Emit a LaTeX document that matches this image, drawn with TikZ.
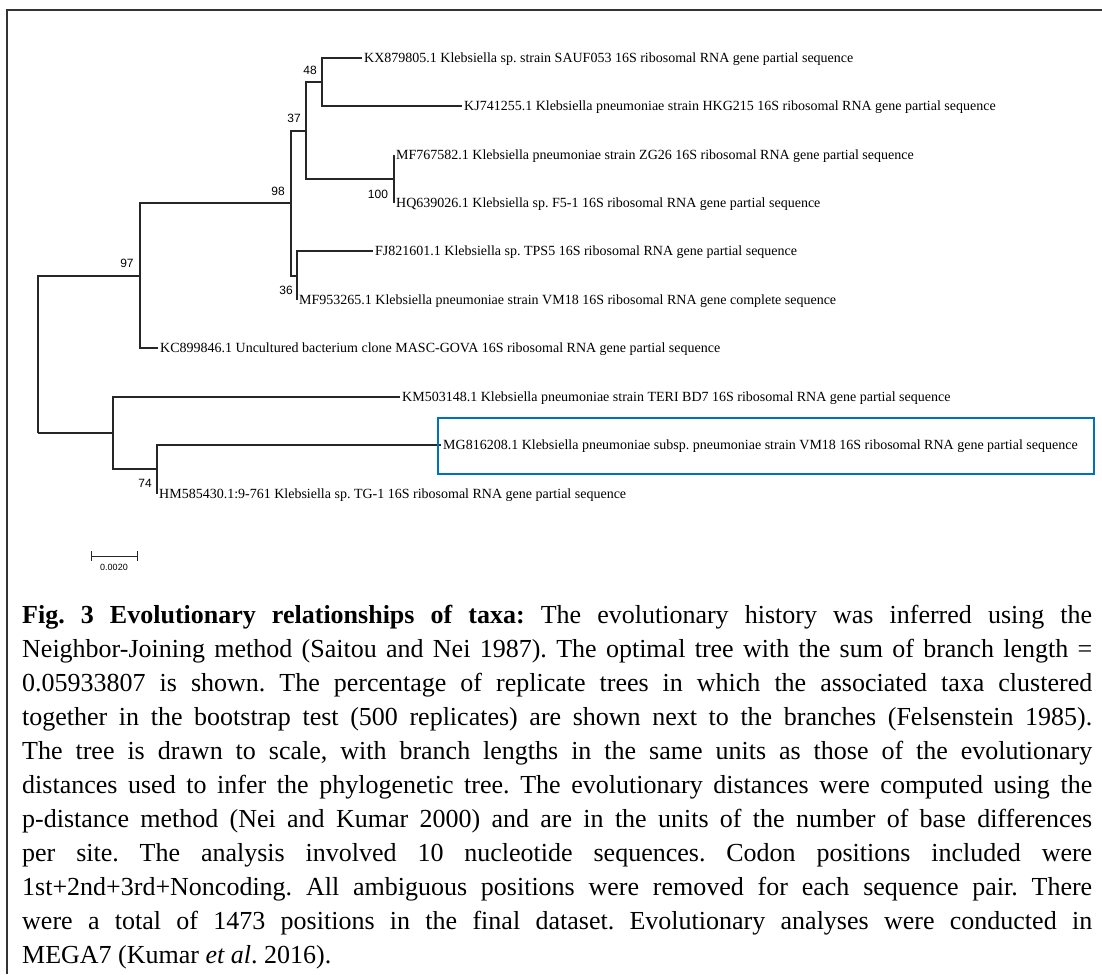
\documentclass[tikz,border=0pt]{standalone}
\usepackage{fontspec}
\setmainfont{Liberation Serif}
\newfontfamily\labelfont{Liberation Serif}
\newfontfamily\bootfont{Liberation Sans}
\definecolor{hlblue}{RGB}{0,112,192}
\newcommand\jline[1]{\hbox to 1070pt{#1}}
\frenchspacing
\begin{document}
\begin{tikzpicture}[x=1pt,y=-1pt,
  branch/.style={draw=black!85,line width=1.1pt},
  tip/.style={anchor=west,inner sep=2pt,font=\labelfont\fontsize{14}{14}\selectfont\frenchspacing,text height=9.2pt,text depth=0pt},
  boot/.style={inner sep=0pt,font=\bootfont\fontsize{12}{12}\selectfont,text height=8.6pt,text depth=0pt},
  frame/.style={draw=black!80,line width=1.5pt},
  hlbox/.style={draw=hlblue,line width=1.6pt}]
\useasboundingbox (0,0) rectangle (1102,974);
% frame
\draw[frame] (7,974) -- (7,10) -- (1102,10);
% internal nodes
\coordinate (root) at (38,433);
\coordinate (n97) at (140,276);
\coordinate (n98) at (291,203);
\coordinate (n37) at (306,131);
\coordinate (n48) at (322,82);
\coordinate (n100) at (394,179);
\coordinate (n36) at (297,276);
\coordinate (nL) at (113,433);
\coordinate (n74) at (157,469);
% tips
\node[tip] (t1) at (362,58) {KX879805.1 Klebsiella sp. strain SAUF053 16S ribosomal RNA gene partial sequence};
\node[tip] (t2) at (462,106) {KJ741255.1 Klebsiella pneumoniae strain HKG215 16S ribosomal RNA gene partial sequence};
\node[tip] (t3) at (394,155) {MF767582.1 Klebsiella pneumoniae strain ZG26 16S ribosomal RNA gene partial sequence};
\node[tip] (t4) at (394,203) {HQ639026.1 Klebsiella sp. F5-1 16S ribosomal RNA gene partial sequence};
\node[tip] (t5) at (373,251) {FJ821601.1 Klebsiella sp. TPS5 16S ribosomal RNA gene partial sequence};
\node[tip] (t6) at (297,300) {MF953265.1 Klebsiella pneumoniae strain VM18 16S ribosomal RNA gene complete sequence};
\node[tip] (t7) at (158,348) {KC899846.1 Uncultured bacterium clone MASC-GOVA 16S ribosomal RNA gene partial sequence};
\node[tip] (t8) at (400,397) {KM503148.1 Klebsiella pneumoniae strain TERI BD7 16S ribosomal RNA gene partial sequence};
\node[tip] (t9) at (441,445) {MG816208.1 Klebsiella pneumoniae subsp. pneumoniae strain VM18 16S ribosomal RNA gene partial sequence};
\node[tip] (t10) at (157,494) {HM585430.1:9-761 Klebsiella sp. TG-1 16S ribosomal RNA gene partial sequence};
% branches
\draw[branch] (root) |- (n97);
\draw[branch] (root) |- (nL);
\draw[branch] (n97) |- (n98);
\draw[branch] (n97) |- (t7.west);
\draw[branch] (n98) |- (n37);
\draw[branch] (n98) |- (n36);
\draw[branch] (n37) |- (n48);
\draw[branch] (n37) |- (n100);
\draw[branch] (n48) |- (t1.west);
\draw[branch] (n48) |- (t2.west);
\draw[branch] (n100) |- (t3.west);
\draw[branch] (n100) |- (t4.west);
\draw[branch] (n36) |- (t5.west);
\draw[branch] (n36) |- (t6.west);
\draw[branch] (nL) |- (t8.west);
\draw[branch] (nL) |- (n74);
\draw[branch] (n74) |- (t9.west);
\draw[branch] (n74) |- (t10.west);
% bootstrap values
\node[boot] (b48) at (310,70) {48};
\node[boot] (b37) at (294,118) {37};
\node[boot] (b98) at (278,191) {98};
\node[boot] (b97) at (127,263) {97};
\node[boot] (b100) at (378,194) {100};
\node[boot] (b36) at (286,290) {36};
\node[boot] (b74) at (145,483) {74};
% highlight box
\draw[hlbox] (438,418) rectangle (1094,474);
% scale bar
\coordinate (sb1) at (91,556);
\coordinate (sb2) at (137,556);
\draw[branch,line width=0.9pt] (sb1) -- (sb2);
\draw[branch,line width=0.9pt] ([yshift=5pt]sb1) -- ([yshift=-5pt]sb1);
\draw[branch,line width=0.9pt] ([yshift=5pt]sb2) -- ([yshift=-5pt]sb2);
\node[inner sep=0pt,font=\bootfont\fontsize{9}{9}\selectfont] (sbl) at (114,567) {0.0020};
% caption
\node[anchor=base west,inner sep=0pt] (cap) at (22,623) {\fontsize{26}{34}\selectfont\frenchspacing\vtop{%
\jline{\textbf{Fig. 3 Evolutionary relationships of taxa:} The evolutionary history was inferred using the}
\jline{Neighbor-Joining method (Saitou and Nei 1987). The optimal tree with the sum of branch length =}
\jline{0.05933807 is shown. The percentage of replicate trees in which the associated taxa clustered}
\jline{together in the bootstrap test (500 replicates) are shown next to the branches (Felsenstein 1985).}
\jline{The tree is drawn to scale, with branch lengths in the same units as those of the evolutionary}
\jline{distances used to infer the phylogenetic tree. The evolutionary distances were computed using the}
\jline{p-distance method (Nei and Kumar 2000) and are in the units of the number of base differences}
\jline{per site. The analysis involved 10 nucleotide sequences. Codon positions included were}
\jline{1st+2nd+3rd+Noncoding. All ambiguous positions were removed for each sequence pair. There}
\jline{were a total of 1473 positions in the final dataset. Evolutionary analyses were conducted in}
\hbox{MEGA7 (Kumar \textit{et al}. 2016).}}};
\end{tikzpicture}
\end{document}
